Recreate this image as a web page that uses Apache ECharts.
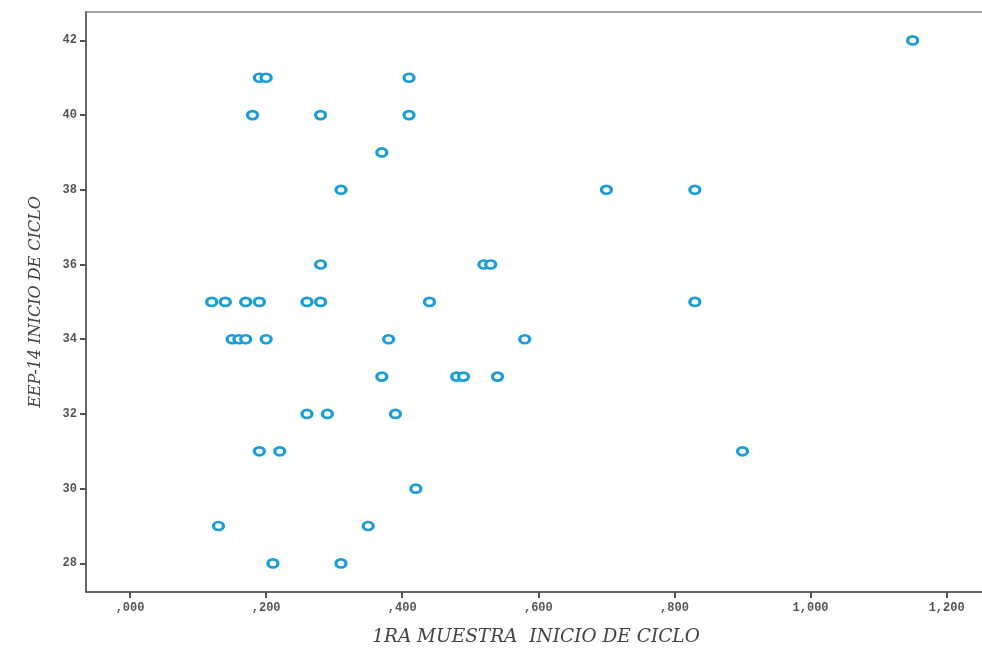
<!DOCTYPE html>
<html>
<head>
<meta charset="utf-8">
<script src="https://cdn.jsdelivr.net/npm/echarts@6/dist/echarts.min.js"></script>
<style>
  html, body { margin: 0; padding: 0; background: #fff; }
  #chart { width: 982px; height: 653px; }
</style>
</head>
<body>
<div id="chart"></div>
<script>
// Scatter of EEP-14 at cycle start against the first sample at cycle start
const xValues = [
  1.15,
  0.19, 0.20, 0.41,
  0.18, 0.28, 0.41,
  0.37,
  0.31, 0.70, 0.83,
  0.28, 0.52, 0.53,
  0.12, 0.14, 0.17, 0.19, 0.26, 0.28, 0.44, 0.83,
  0.15, 0.16, 0.17, 0.20, 0.38, 0.58,
  0.37, 0.48, 0.49, 0.54,
  0.26, 0.29, 0.39,
  0.19, 0.22, 0.90,
  0.42,
  0.13, 0.35,
  0.21, 0.31
];
const yValues = [
  42,
  41, 41, 41,
  40, 40, 40,
  39,
  38, 38, 38,
  36, 36, 36,
  35, 35, 35, 35, 35, 35, 35, 35,
  34, 34, 34, 34, 34, 34,
  33, 33, 33, 33,
  32, 32, 32,
  31, 31, 31,
  30,
  29, 29,
  28, 28
];
const xTicks = [0, 0.2, 0.4, 0.6, 0.8, 1.0, 1.2];
const yTicks = [28, 30, 32, 34, 36, 38, 40, 42];

const points = xValues.map((x, i) => [x, yValues[i]]);

function fmtX(v) {
  let s = v.toFixed(3).replace('.', ',');
  if (s.startsWith('0,')) s = s.slice(1);
  return s;
}

const labelStyle = {
  fontFamily: 'Liberation Mono',
  fontWeight: 'bold',
  fontSize: 12,
  color: '#555'
};

const chart = echarts.init(document.getElementById('chart'));
chart.setOption({
  animation: false,
  backgroundColor: '#fff',
  grid: {
    left: 86, top: 12, width: 900, height: 580,
    outerBoundsMode: 'none',
    containLabel: false,
    show: true, borderColor: '#888', borderWidth: 1.5, backgroundColor: '#fff'
  },
  xAxis: {
    type: 'value',
    min: -0.0647,
    max: 1.2578,
    name: '1RA MUESTRA  INICIO DE CICLO',
    nameLocation: 'middle',
    nameGap: 36,
    nameTextStyle: {
      fontFamily: 'DejaVu Serif', fontStyle: 'italic', fontSize: 18.5, color: '#444'
    },
    axisLine: { show: true, onZero: false, lineStyle: { color: '#555', width: 1.5 } },
    axisTick: { show: true, length: 6, customValues: xTicks, lineStyle: { color: '#555', width: 2 } },
    axisLabel: Object.assign({ customValues: xTicks, formatter: fmtX, margin: 10 }, labelStyle),
    splitLine: { show: false }
  },
  yAxis: {
    type: 'value',
    min: 27.234,
    max: 42.76,
    name: 'EEP-14 INICIO DE CICLO',
    nameLocation: 'middle',
    nameGap: 42,
    nameTextStyle: {
      fontFamily: 'DejaVu Serif', fontStyle: 'italic', fontSize: 16, color: '#444'
    },
    axisLine: { show: true, onZero: false, lineStyle: { color: '#555', width: 1.5 } },
    axisTick: { show: true, length: 6, customValues: yTicks, lineStyle: { color: '#555', width: 2 } },
    axisLabel: Object.assign({ customValues: yTicks, margin: 9 }, labelStyle),
    splitLine: { show: false }
  },
  series: [{
    type: 'scatter',
    data: points,
    symbol: 'circle',
    symbolSize: [10, 8],
    itemStyle: { color: '#fff', borderColor: '#1c9dd9', borderWidth: 3, opacity: 1 }
  }]
});
</script>
</body>
</html>
